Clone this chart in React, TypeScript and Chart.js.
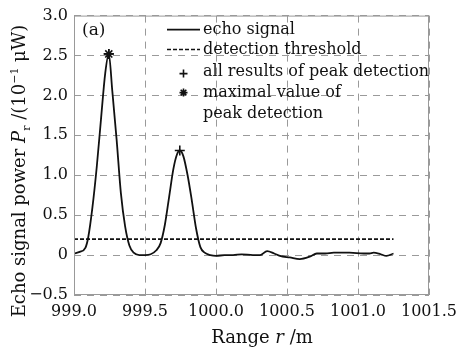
import React, { useEffect, useRef } from "react";
import { Chart, registerables } from "chart.js";

Chart.register(...registerables);

const signalX = [
  999.0, 999.04, 999.08, 999.1, 999.13, 999.16, 999.19, 999.22, 999.245, 999.27, 999.3, 999.33,
  999.36, 999.39, 999.42, 999.46, 999.5, 999.54, 999.58, 999.61, 999.64, 999.67, 999.7, 999.725,
  999.745, 999.77, 999.8, 999.83, 999.86, 999.89, 999.92, 999.96, 1000.0, 1000.06, 1000.12,
  1000.18, 1000.26, 1000.31, 1000.36, 1000.41, 1000.45, 1000.52, 1000.59, 1000.66, 1000.71,
  1000.77, 1000.83, 1000.94, 1001.04, 1001.08, 1001.11, 1001.16, 1001.2, 1001.25,
];
const signalY = [
  0.02, 0.04, 0.09, 0.22, 0.6, 1.1, 1.7, 2.28, 2.52, 2.05, 1.45, 0.78,
  0.36, 0.12, 0.03, 0.0, 0.0, 0.01, 0.06, 0.15, 0.38, 0.73, 1.08, 1.26,
  1.31, 1.24, 1.0, 0.68, 0.33, 0.1, 0.03, 0.0, -0.01, 0.0, 0.0,
  0.01, 0.0, 0.0, 0.05, 0.02, -0.01, -0.03, -0.05, -0.02, 0.02,
  0.02, 0.03, 0.03, 0.02, 0.02, 0.03, 0.01, -0.01, 0.02,
];
const thresholdX = [999.0, 1001.25];
const thresholdY = [0.2, 0.2];
const peakX = [999.245, 999.745];
const peakY = [2.52, 1.31];
const maxPeakX = [999.245];
const maxPeakY = [2.52];

const legendLabels = [
  "echo signal",
  "detection threshold",
  "all results of peak detection",
  "maximal value of",
  "peak detection",
];
const panelLabel = "(a)";
const xTitleParts = [
  { t: "Range ", s: "n" },
  { t: "r", s: "i" },
  { t: " /m", s: "n" },
];
const yTitleParts = [
  { t: "Echo signal power ", s: "n" },
  { t: "P", s: "i" },
  { t: "r", s: "sub" },
  { t: " /(10", s: "n" },
  { t: "−1", s: "sup" },
  { t: " μW)", s: "n" },
];

const FONT = "'DejaVu Serif', serif";

function drawParts(ctx: CanvasRenderingContext2D, parts: { t: string; s: string }[], cx: number, cy: number, size: number) {
  const fontFor = (s: string) =>
    s === "i" ? `italic ${size}px ${FONT}` : s === "sub" || s === "sup" ? `${Math.round(size * 0.62)}px ${FONT}` : `${size}px ${FONT}`;
  let total = 0;
  for (const p of parts) {
    ctx.font = fontFor(p.s);
    total += ctx.measureText(p.t).width;
  }
  let x = cx - total / 2;
  ctx.textBaseline = "alphabetic";
  ctx.textAlign = "left";
  for (const p of parts) {
    ctx.font = fontFor(p.s);
    const dy = p.s === "sub" ? size * 0.25 : p.s === "sup" ? -size * 0.4 : 0;
    ctx.fillText(p.t, x, cy + dy);
    x += ctx.measureText(p.t).width;
  }
}

const overlay = {
  id: "overlay",
  afterDraw(chart: any) {
    const ctx: CanvasRenderingContext2D = chart.ctx;
    const a = chart.chartArea;
    ctx.save();
    // frame
    ctx.strokeStyle = "#999";
    ctx.lineWidth = 1;
    ctx.setLineDash([]);
    ctx.strokeRect(a.left + 0.5, a.top + 0.5, a.right - a.left - 1, a.bottom - a.top - 1);
    ctx.fillStyle = "#111";
    // panel label
    ctx.font = `17px ${FONT}`;
    ctx.textAlign = "left";
    ctx.textBaseline = "middle";
    ctx.fillText(panelLabel, a.left + 8, a.top + 15);
    // legend
    const sx0 = a.left + 93;
    const sx1 = a.left + 126;
    const tx = a.left + 129;
    const rows = [a.top + 14, a.top + 34, a.top + 56, a.top + 77, a.top + 98];
    ctx.strokeStyle = "#111";
    ctx.lineWidth = 1.8;
    ctx.beginPath();
    ctx.moveTo(sx0, rows[0]);
    ctx.lineTo(sx1, rows[0]);
    ctx.stroke();
    ctx.setLineDash([4, 2]);
    ctx.lineWidth = 1.5;
    ctx.beginPath();
    ctx.moveTo(sx0, rows[1]);
    ctx.lineTo(sx1, rows[1]);
    ctx.stroke();
    ctx.setLineDash([]);
    const mx = (sx0 + sx1) / 2;
    const r = 4;
    ctx.lineWidth = 1.6;
    ctx.beginPath();
    ctx.moveTo(mx - r, rows[2] + 2);
    ctx.lineTo(mx + r, rows[2] + 2);
    ctx.moveTo(mx, rows[2] + 2 - r);
    ctx.lineTo(mx, rows[2] + 2 + r);
    ctx.stroke();
    ctx.beginPath();
    for (let k = 0; k < 4; k++) {
      const ang = (k * Math.PI) / 4;
      ctx.moveTo(mx - r * Math.cos(ang), rows[3] - r * Math.sin(ang));
      ctx.lineTo(mx + r * Math.cos(ang), rows[3] + r * Math.sin(ang));
    }
    ctx.stroke();
    ctx.font = `16px ${FONT}`;
    ctx.textBaseline = "middle";
    legendLabels.forEach((l, i) => ctx.fillText(l, tx, rows[i]));
    // axis titles
    drawParts(ctx, xTitleParts, 262, 343, 18);
    ctx.save();
    ctx.translate(25, 171);
    ctx.rotate(-Math.PI / 2);
    drawParts(ctx, yTitleParts, 0, 0, 18);
    ctx.restore();
    ctx.restore();
  },
};

export default function App() {
  const ref = useRef<HTMLCanvasElement>(null);
  useEffect(() => {
    const grid = { color: "#9a9a9a", lineWidth: 1, drawTicks: false };
    const chart = new Chart(ref.current!, {
      type: "line",
      data: {
        datasets: [
          {
            label: "echo signal",
            data: signalX.map((x, i) => ({ x, y: signalY[i] })),
            borderColor: "#111",
            borderWidth: 1.8,
            pointRadius: 0,
            cubicInterpolationMode: "monotone",
            fill: false,
          },
          {
            label: "detection threshold",
            data: thresholdX.map((x, i) => ({ x, y: thresholdY[i] })),
            borderColor: "#111",
            borderWidth: 1.6,
            borderDash: [4, 2],
            pointRadius: 0,
            fill: false,
          },
          {
            label: "all results of peak detection",
            data: peakX.map((x, i) => ({ x, y: peakY[i] })),
            showLine: false,
            pointStyle: "cross",
            pointRadius: 5,
            pointBorderWidth: 1.6,
            pointBorderColor: "#111",
          },
          {
            label: "maximal value of peak detection",
            data: maxPeakX.map((x, i) => ({ x, y: maxPeakY[i] })),
            showLine: false,
            pointStyle: "star",
            pointRadius: 5,
            pointBorderWidth: 1.6,
            pointBorderColor: "#111",
          },
        ],
      },
      options: {
        responsive: false,
        animation: false,
        layout: { padding: { left: 0, top: 14, right: 39, bottom: 0 } },
        plugins: { legend: { display: false }, tooltip: { enabled: false } },
        scales: {
          x: {
            type: "linear",
            min: 999.0,
            max: 1001.5,
            grid,
            border: { display: false, dash: [7, 6] },
            ticks: {
              stepSize: 0.5,
              color: "#111",
              padding: 7,
              maxRotation: 0,
              font: { family: FONT, size: 16 },
              callback: (v: any) => Number(v).toFixed(1),
            },
            afterFit: (s: any) => {
              s.height = 53;
            },
          },
          y: {
            min: -0.5,
            max: 3.0,
            grid,
            border: { display: false, dash: [7, 6] },
            ticks: {
              stepSize: 0.5,
              color: "#111",
              padding: 6,
              font: { family: FONT, size: 16 },
              callback: (v: any) => (Number(v) === 0 ? "0" : Number(v).toFixed(1).replace("-", "−")),
            },
            afterFit: (s: any) => {
              s.width = 74;
            },
          },
        },
      },
      plugins: [overlay],
    } as any);
    return () => chart.destroy();
  }, []);
  return (
    <div style={{ position: "absolute", left: 0, top: 0, width: 468, height: 348, background: "#fff" }}>
      <canvas ref={ref} width={468} height={348} />
    </div>
  );
}
